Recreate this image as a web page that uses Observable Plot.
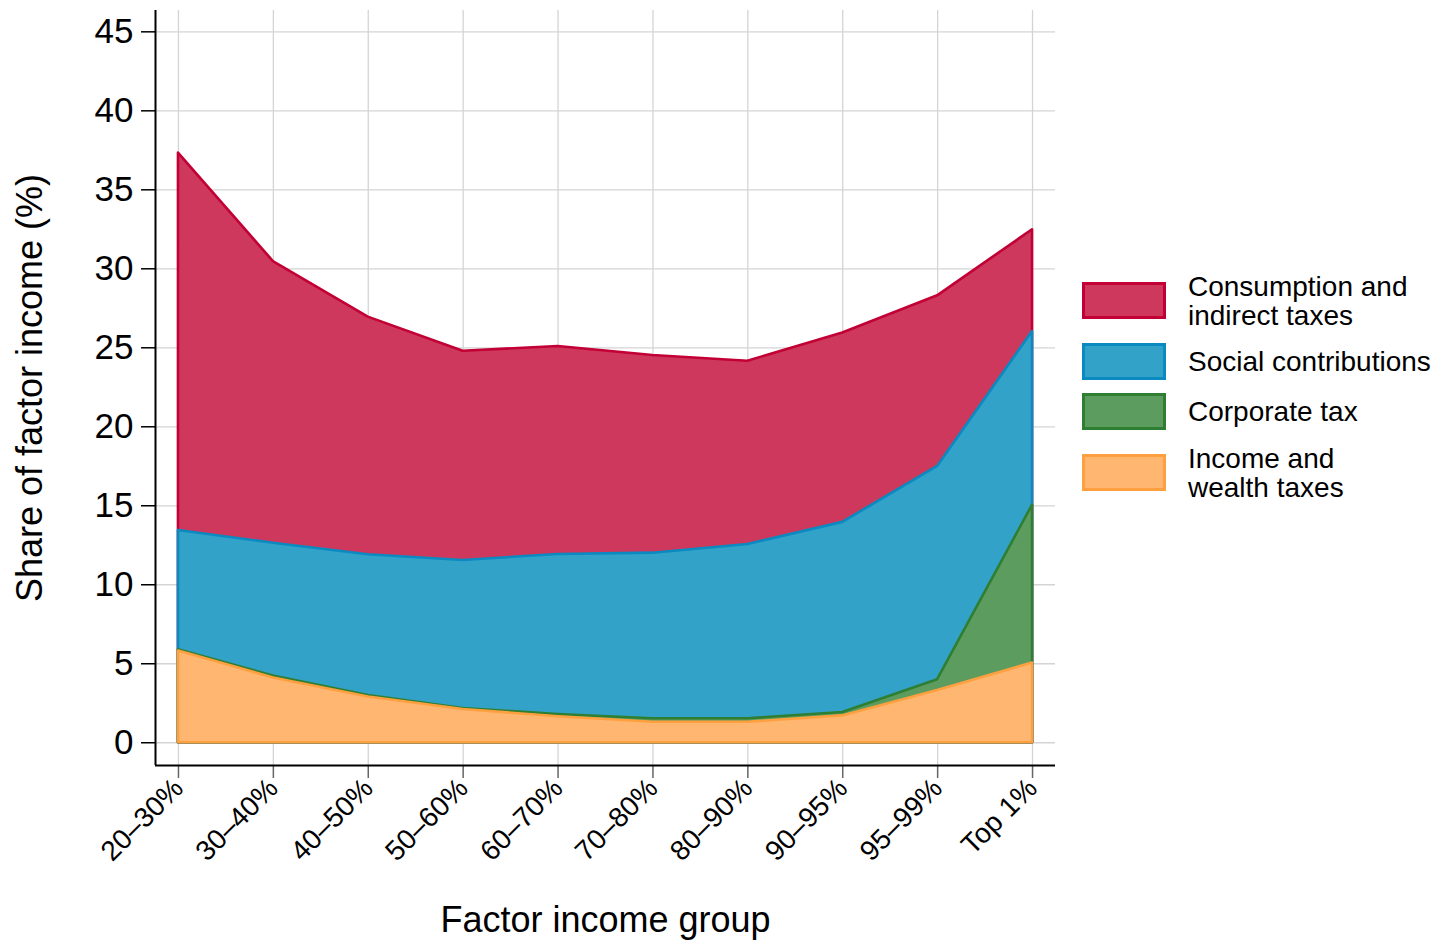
<!DOCTYPE html>
<html>
<head>
<meta charset="utf-8">
<script src="https://cdn.jsdelivr.net/npm/d3@7"></script>
<script src="https://cdn.jsdelivr.net/npm/@observablehq/plot@0.6"></script>
<style>
  html, body { margin: 0; padding: 0; background: #fff; }
  #wrap { position: relative; width: 1444px; height: 941px; font-family: "Liberation Sans", Arial, sans-serif; }
  #chart { position: absolute; left: 0; top: 0; }
  #legend { position: absolute; left: 1082px; top: 0; }
  .item { position: absolute; left: 0; display: flex; align-items: center; }
  .sw { width: 78px; height: 31px; border: 3px solid; box-sizing: content-box; }
  .lab { position: absolute; left: 106px; font-size: 28px; line-height: 29px; color: #000; white-space: nowrap; }
</style>
</head>
<body>
<div id="wrap">
  <div id="chart"></div>
  <div id="legend"></div>
</div>
<script>
// ---- data ----
const categories = ["20–30%", "30–40%", "40–50%", "50–60%", "60–70%", "70–80%", "80–90%", "90–95%", "95–99%", "Top 1%"];
const incomeWealth = [5.8, 4.1, 2.9, 2.1, 1.65, 1.3, 1.3, 1.7, 3.3, 5.05];
const corporate    = [0.08, 0.12, 0.09, 0.07, 0.14, 0.22, 0.22, 0.21, 0.69, 9.99];
const social       = [7.56, 8.41, 8.91, 9.37, 10.13, 10.48, 11.03, 12.04, 13.5, 10.99];
const consumption  = [23.88, 17.83, 15.04, 13.24, 13.16, 12.51, 11.6, 11.99, 10.8, 6.44];
const seriesNames = ["Income and\nwealth taxes", "Corporate tax", "Social contributions", "Consumption and\nindirect taxes"];
const seriesValues = [incomeWealth, corporate, social, consumption];
const fills   = ["#FFB670", "#5C9C5E", "#33A2C9", "#CD385C"];
const strokes = ["#FFA040", "#2F7F33", "#0A8AC0", "#C20035"];
const yTicks = [0, 5, 10, 15, 20, 25, 30, 35, 40, 45];

// long table with cumulative tops (bottom series first)
const rows = [];
categories.forEach((c, i) => {
  let cum = 0;
  seriesValues.forEach((vals, s) => {
    cum += vals[i];
    rows.push({i, category: c, series: seriesNames[s], s, value: vals[i], cum});
  });
});

const font = "'Liberation Sans', Arial, sans-serif";
const xMin = -0.242, xMax = 9.242, yMin = -1.44, yMax = 46.35;

const areaMarks = [];
for (let s = seriesNames.length - 1; s >= 0; s--) {
  areaMarks.push(Plot.areaY(rows.filter(d => d.s === s), {
    x: "i", y1: 0, y2: "cum",
    fill: fills[s], stroke: strokes[s], strokeWidth: 2.6, strokeLinejoin: "round"
  }));
}

const chart = Plot.plot({
  width: 1070,
  height: 941,
  marginLeft: 155,
  marginRight: 15,
  marginTop: 10,
  marginBottom: 176,
  style: {fontFamily: font, background: "#fff", color: "#000"},
  x: {type: "linear", domain: [xMin, xMax]},
  y: {type: "linear", domain: [yMin, yMax]},
  marks: [
    Plot.gridY(yTicks, {stroke: "#d4d4d4", strokeOpacity: 1, strokeWidth: 1.3}),
    Plot.gridX(d3.range(categories.length), {stroke: "#d4d4d4", strokeOpacity: 1, strokeWidth: 1.3}),
    ...areaMarks,
    Plot.axisY(yTicks, {tickSize: 14, tickPadding: 8, fontSize: 35, stroke: "#000", strokeWidth: 1.5, label: null}),
    Plot.axisX(d3.range(categories.length), {
      tickSize: 13, tickPadding: 5, fontSize: 28, tickRotate: -45,
      tickFormat: i => categories[i], stroke: "#666", strokeWidth: 1.5, label: null
    }),
    Plot.ruleX([xMin], {stroke: "#000", strokeWidth: 2}),
    Plot.ruleY([yMin], {stroke: "#000", strokeWidth: 2.2}),
    Plot.text(["Share of factor income (%)"], {frameAnchor: "left", rotate: -90, dx: -125, fontSize: 36, fill: "#000", textAnchor: "middle", lineAnchor: "middle"}),
    Plot.text(["Factor income group"], {frameAnchor: "bottom", dy: 155, fontSize: 36, fill: "#000", textAnchor: "middle", lineAnchor: "middle"})
  ]
});
document.getElementById("chart").appendChild(chart);

// legend (top to bottom: consumption, social, corporate, income)
const legend = document.getElementById("legend");
const legendTops = [282, 343, 393, 454];
[3, 2, 1, 0].forEach((s, k) => {
  const item = document.createElement("div");
  item.className = "item";
  item.style.top = legendTops[k] + "px";
  const sw = document.createElement("div");
  sw.className = "sw";
  sw.style.background = fills[s];
  sw.style.borderColor = strokes[s];
  item.appendChild(sw);
  const lab = document.createElement("div");
  lab.className = "lab";
  const lines = seriesNames[s].split("\n");
  lab.innerHTML = lines.join("<br>");
  lab.style.top = (18.5 - lines.length * 14.5) + "px";
  item.appendChild(lab);
  legend.appendChild(item);
});
</script>
</body>
</html>
